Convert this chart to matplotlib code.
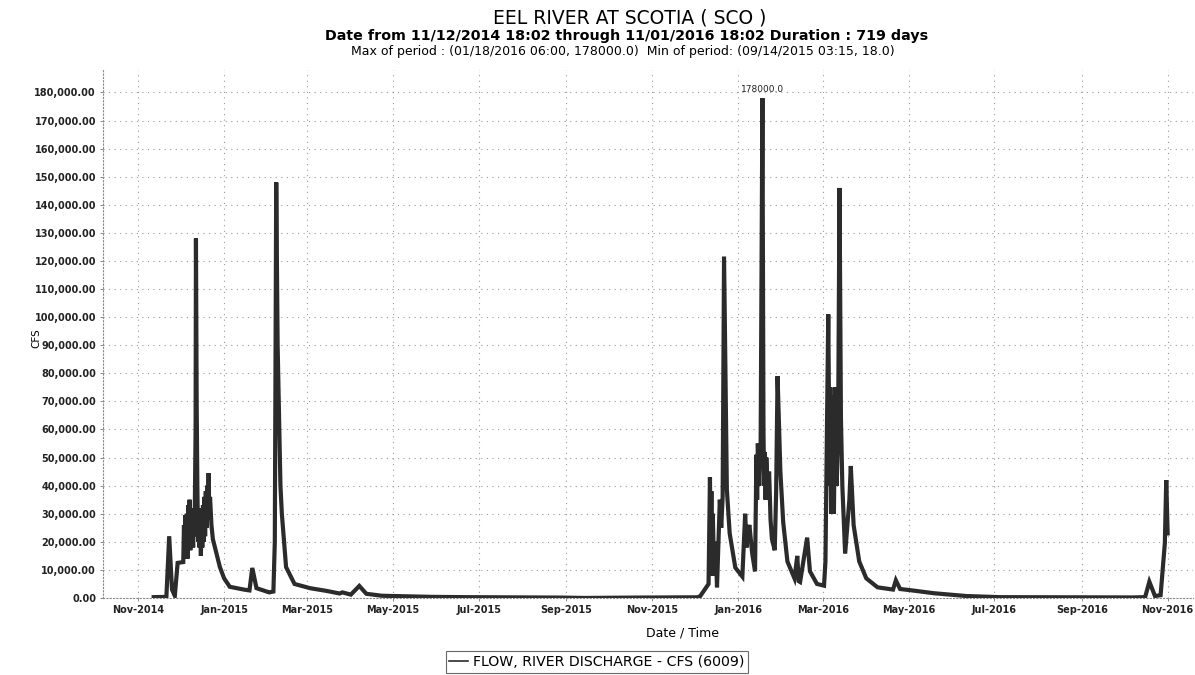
import matplotlib
matplotlib.use("Agg")
import matplotlib.pyplot as plt
import matplotlib.dates as mdates
from matplotlib.ticker import FuncFormatter
import datetime as dt

# ---- data ----
dates = [
    "2014-11-12", "2014-11-21", "2014-11-23", "2014-11-25", "2014-11-27", "2014-11-29",
    "2014-12-03 00", "2014-12-03 12", "2014-12-04 00", "2014-12-04 12", "2014-12-05 00",
    "2014-12-05 12", "2014-12-06 00", "2014-12-06 12", "2014-12-07 00", "2014-12-07 12",
    "2014-12-08 00", "2014-12-08 12", "2014-12-09 00", "2014-12-09 12", "2014-12-10 00",
    "2014-12-10 12", "2014-12-11 00", "2014-12-11 18", "2014-12-12 00", "2014-12-12 12",
    "2014-12-13 00", "2014-12-13 12", "2014-12-14 00", "2014-12-14 12", "2014-12-15 00",
    "2014-12-15 12", "2014-12-16 00", "2014-12-16 12", "2014-12-17 00", "2014-12-17 12",
    "2014-12-18 00", "2014-12-18 12", "2014-12-19 00", "2014-12-19 12", "2014-12-20 00",
    "2014-12-20 12", "2014-12-21 00", "2014-12-21 12", "2014-12-22 00", "2014-12-23 00",
    "2014-12-24 00", "2014-12-27", "2014-12-29",
    "2015-01-01", "2015-01-05", "2015-01-15", "2015-01-19", "2015-01-21", "2015-01-24",
    "2015-02-02", "2015-02-05", "2015-02-06", "2015-02-07", "2015-02-08", "2015-02-09",
    "2015-02-10", "2015-02-11", "2015-02-14", "2015-02-20", "2015-03-03", "2015-03-15",
    "2015-03-24", "2015-03-26", "2015-04-01", "2015-04-07", "2015-04-12", "2015-04-23",
    "2015-05-29", "2015-06-22", "2015-08-28", "2015-09-14", "2015-10-20", "2015-12-03",
    "2015-12-05", "2015-12-11", "2015-12-12 00", "2015-12-12 12", "2015-12-13 00",
    "2015-12-13 12", "2015-12-14 00", "2015-12-15 00", "2015-12-16 00", "2015-12-17 00",
    "2015-12-19", "2015-12-20", "2015-12-21", "2015-12-22", "2015-12-24",
    "2015-12-26", "2015-12-30", "2016-01-04", "2016-01-06", "2016-01-07", "2016-01-08",
    "2016-01-09", "2016-01-11", "2016-01-13", "2016-01-14 00", "2016-01-14 12",
    "2016-01-15 00", "2016-01-16 00", "2016-01-17 00", "2016-01-18 06",
    "2016-01-19 00", "2016-01-19 12", "2016-01-20 00", "2016-01-20 12", "2016-01-21 00",
    "2016-01-22 00", "2016-01-23 00", "2016-01-24 00", "2016-01-25", "2016-01-27",
    "2016-01-28", "2016-01-29", "2016-01-31", "2016-02-02", "2016-02-05", "2016-02-10",
    "2016-02-12", "2016-02-13", "2016-02-14", "2016-02-19", "2016-02-21", "2016-02-26",
    "2016-03-02", "2016-03-03", "2016-03-05 00", "2016-03-06 00", "2016-03-06 12",
    "2016-03-07 00", "2016-03-07 12", "2016-03-08 00", "2016-03-08 12", "2016-03-09 00",
    "2016-03-10 00", "2016-03-11 00", "2016-03-12 00", "2016-03-13 00", "2016-03-14 00",
    "2016-03-15 00", "2016-03-17", "2016-03-20",
    "2016-03-21", "2016-03-23", "2016-03-27", "2016-04-01", "2016-04-09", "2016-04-20",
    "2016-04-22", "2016-04-25", "2016-05-02", "2016-05-14", "2016-05-19", "2016-06-11",
    "2016-07-05", "2016-10-07", "2016-10-16", "2016-10-19", "2016-10-23", "2016-10-27",
    "2016-10-29", "2016-10-30", "2016-10-31", "2016-11-01",
]
flow_cfs = [
    300, 400, 22000, 3000, 800, 12500,
    12800, 26000, 14000, 29500, 16000,
    30000, 14000, 33000, 18000, 35000,
    17000, 30000, 20000, 27000, 18000,
    32000, 22000, 60000, 128000, 70000,
    40000, 20000, 32000, 18000, 30000,
    15000, 28000, 18000, 33000, 20000,
    36000, 22000, 38000, 25000, 40000,
    30000, 44500, 28000, 36000, 26000,
    21000, 15000, 11000,
    7000, 4000, 3000, 2700, 10700, 3500,
    2000, 2300, 20000, 148000, 90000, 65000,
    40000, 30000, 11000, 5000, 3500, 2500,
    1600, 2000, 1200, 4300, 1500, 800,
    400, 300, 150, 18, 150, 250,
    600, 5000, 43000, 15000, 38000,
    8000, 30000, 8000, 20000, 3800,
    35000, 25000, 36000, 121600, 38600,
    23000, 10800, 7600, 30000, 18000, 24000,
    26000, 15800, 9500, 51000, 35000,
    55000, 40000, 56000, 178000,
    59000, 40000, 52000, 35000, 50000,
    38600, 45000, 28000, 21000, 17000,
    38000, 79000, 45000, 27000, 13000, 7000,
    15000, 6000, 5700, 21500, 9500, 5000,
    4400, 13000, 101000, 40000, 75000,
    30000, 72000, 40000, 70000, 30000,
    75000, 40000, 60000, 146000, 64000,
    40000, 15800, 35000,
    47000, 26000, 13000, 7000, 3800, 3000,
    6300, 3200, 2800, 2000, 1700, 700,
    300, 200, 300, 5800, 700, 1000,
    13500, 19500, 42000, 23000,
]
tick_months = ["2014-11-01", "2015-01-01", "2015-03-01", "2015-05-01", "2015-07-01",
               "2015-09-01", "2015-11-01", "2016-01-01", "2016-03-01", "2016-05-01",
               "2016-07-01", "2016-09-01", "2016-11-01"]
y_ticks = list(range(0, 180001, 10000))
peak_date = "2016-01-18 06"
peak_value = 178000.0


def parse(d):
    fmt = "%Y-%m-%d %H" if len(d) > 10 else "%Y-%m-%d"
    return dt.datetime.strptime(d, fmt)


x = [parse(d) for d in dates]
ticks_x = [parse(d) for d in tick_months]

W, H = 1195, 675
fig = plt.figure(figsize=(W / 100, H / 100), dpi=100)
fig.patch.set_facecolor("white")
ax = fig.add_axes([103 / W, 77 / H, (1193 - 103) / W, (598 - 70) / H])

line, = ax.plot(x, flow_cfs, color="#2b2b2b", lw=3.0, solid_joinstyle="miter",
                label="FLOW, RIVER DISCHARGE - CFS (6009)")

ax.set_xlim(dt.datetime(2014, 10, 7), dt.datetime(2016, 11, 19))
ax.set_ylim(0, 188000)
ax.set_xticks(ticks_x)
ax.xaxis.set_major_formatter(mdates.DateFormatter("%b-%Y"))
ax.set_yticks(y_ticks)
ax.yaxis.set_major_formatter(FuncFormatter(lambda v, p: f"{v:,.2f}"))

ax.grid(True, linestyle=(0, (1, 4)), color="#9a9a9a", linewidth=0.8)
for s in ["top", "right"]:
    ax.spines[s].set_visible(False)
for s in ["left", "bottom"]:
    ax.spines[s].set_linestyle((0, (1, 2)))
    ax.spines[s].set_color("#888888")
    ax.spines[s].set_linewidth(0.8)
ax.tick_params(axis="both", length=2, width=0.6, color="#777777", labelsize=7, pad=3)
for lab in ax.get_xticklabels() + ax.get_yticklabels():
    lab.set_fontweight("bold")
    lab.set_color("#222222")

ax.annotate(f"{peak_value:.1f}", xy=(parse(peak_date), peak_value), xytext=(0, 3),
            textcoords="offset points", ha="center", va="bottom", fontsize=6.5,
            color="#222222")

fig.text(36 / W, 1 - 338 / H, "CFS", ha="center", va="center", rotation=90, fontsize=7.5)
fig.text(683 / W, 1 - 633 / H, "Date / Time", ha="center", va="center", fontsize=9)

fig.text(630 / W, 1 - 18 / H, "EEL RIVER AT SCOTIA ( SCO )", ha="center", va="center",
         fontsize=13.5)
fig.text(627 / W, 1 - 36 / H,
         "Date from 11/12/2014 18:02 through 11/01/2016 18:02 Duration : 719 days",
         ha="center", va="center", fontsize=10.3, fontweight="bold")
fig.text(623 / W, 1 - 52 / H,
         "Max of period : (01/18/2016 06:00, 178000.0)  Min of period: (09/14/2015 03:15, 18.0)",
         ha="center", va="center", fontsize=9)

leg = fig.legend(handles=[line], loc="center", bbox_to_anchor=(597 / W, 1 - 662 / H),
                 fontsize=10.2, frameon=True, fancybox=False, handlelength=1.3,
                 borderpad=0.25, handletextpad=0.4)
leg.get_frame().set_edgecolor("#444444")
leg.get_frame().set_linewidth(0.8)
leg.get_lines()[0].set_linewidth(1.2)

fig.savefig("out.png", dpi=100)
